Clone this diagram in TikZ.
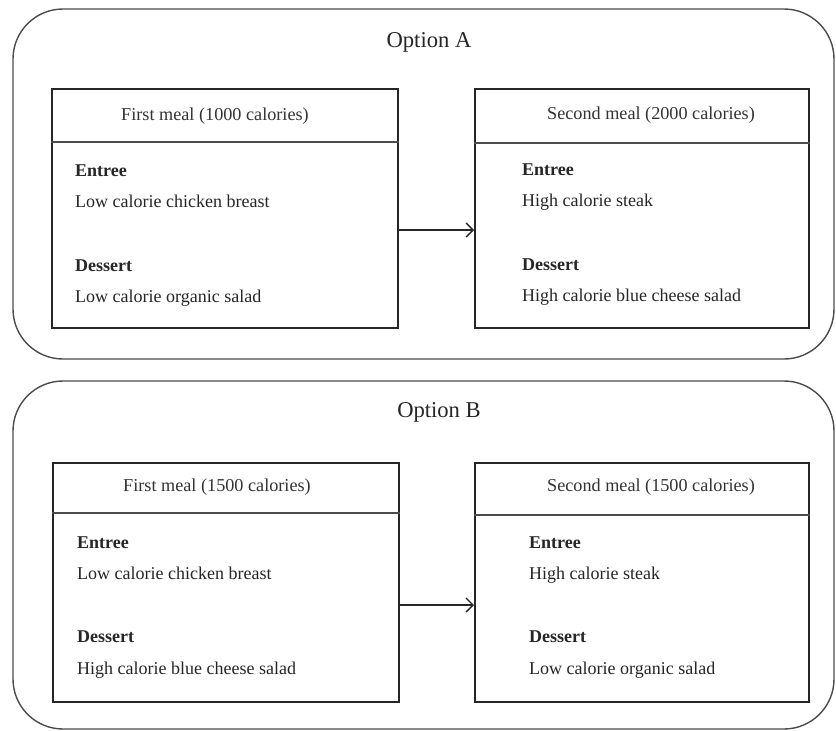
\documentclass[tikz,border=0pt]{standalone}
\usepackage{fontspec}
\setmainfont{Liberation Serif}
\usetikzlibrary{arrows.meta,calc}
\begin{document}
\begin{tikzpicture}[x=1pt,y=-1pt,
  option/.style={draw=black!70,line width=1.4pt,rounded corners=50pt},
  meal/.style={draw=black!85,line width=1.6pt,rectangle,inner sep=0pt,
    anchor=north west,minimum width=#1,minimum height=239pt},
  divider/.style={draw=black!70,line width=1.4pt},
  flow/.style={draw=black!85,line width=1.3pt,-{Straight Barb[length=7pt,width=14pt,line width=1.3pt]}},
  title/.style={font=\fontsize{22.6}{26}\selectfont,inner sep=0pt,text=black!85},
  head/.style={font=\fontsize{18.2}{21}\selectfont,inner sep=0pt,text=black!80,
    text height=12pt,text depth=3pt},
  txt/.style={anchor=west,font=\fontsize{18}{21}\selectfont,inner sep=0pt,
    text=black!85,text height=12pt,text depth=3pt},
  lbl/.style={txt,font=\fontsize{18}{21}\selectfont\bfseries}
]
\useasboundingbox[fill=white] (0,0) rectangle (836,731);

% ---------- Option A ----------
\draw[option] (13,9) rectangle (834,359);
\node[title] (tA) at (429,42) {Option A};

\node[meal=346pt] (a1) at (51,88) {};
\node[meal=334pt] (a2) at (474,88) {};
\draw[divider] ($(a1.north west)+(0,54)$) -- ($(a1.north east)+(0,54)$);
\draw[divider] ($(a2.north west)+(0,55)$) -- ($(a2.north east)+(0,55)$);

\node[head] (a1h) at (215,116) {First meal (1000 calories)};
\node[lbl] (a1e) at (75,172) {Entree};
\node[txt] (a1ei) at (75,203) {Low calorie chicken breast};
\node[lbl] (a1d) at (75,267) {Dessert};
\node[txt] (a1di) at (75,298) {Low calorie organic salad};

\node[head] (a2h) at (651,115) {Second meal (2000 calories)};
\node[lbl] (a2e) at (522,171) {Entree};
\node[txt] (a2ei) at (522,202) {High calorie steak};
\node[lbl] (a2d) at (522,266) {Dessert};
\node[txt] (a2di) at (522,297) {High calorie blue cheese salad};

\coordinate (aout) at ($(a1.north east)+(0,142)$);
\coordinate (ain) at ($(a2.north west)+(0,142)$);
\draw[flow] (aout) -- (ain);

% ---------- Option B ----------
\draw[option] (13,381) rectangle (834,729);
\node[title] (tB) at (439,412) {Option B};

\node[meal=346pt] (b1) at (52,462) {};
\node[meal=334pt] (b2) at (474,462) {};
\draw[divider] ($(b1.north west)+(0,51)$) -- ($(b1.north east)+(0,51)$);
\draw[divider] ($(b2.north west)+(0,53)$) -- ($(b2.north east)+(0,53)$);

\node[head] (b1h) at (217,487) {First meal (1500 calories)};
\node[lbl] (b1e) at (77,544) {Entree};
\node[txt] (b1ei) at (77,575) {Low calorie chicken breast};
\node[lbl] (b1d) at (77,638) {Dessert};
\node[txt] (b1di) at (77,670) {High calorie blue cheese salad};

\node[head] (b2h) at (651,487) {Second meal (1500 calories)};
\node[lbl] (b2e) at (529,544) {Entree};
\node[txt] (b2ei) at (529,575) {High calorie steak};
\node[lbl] (b2d) at (529,638) {Dessert};
\node[txt] (b2di) at (529,670) {Low calorie organic salad};

\coordinate (bout) at ($(b1.north east)+(0,143)$);
\coordinate (bin) at ($(b2.north west)+(0,143)$);
\draw[flow] (bout) -- (bin);
\end{tikzpicture}
\end{document}
